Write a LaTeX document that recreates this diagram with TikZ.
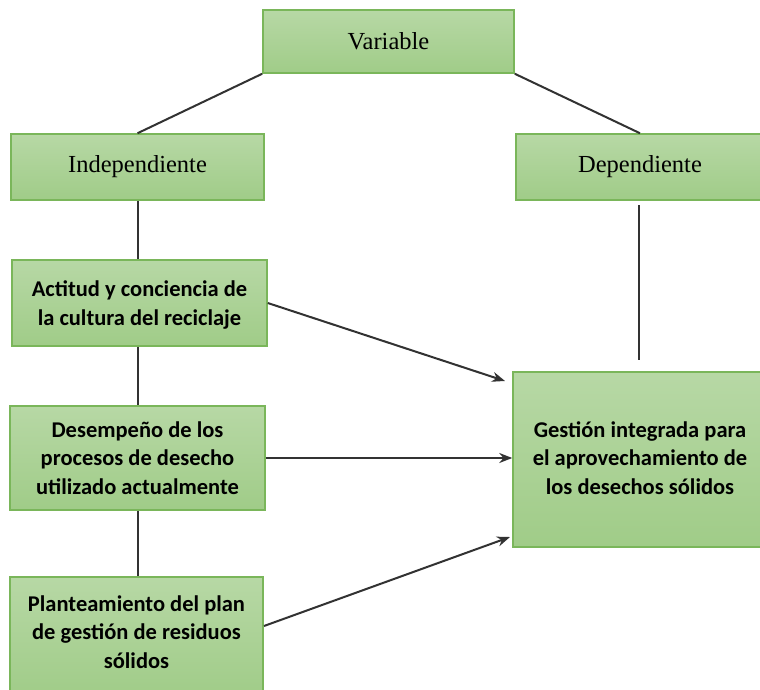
\documentclass[tikz,border=0pt]{standalone}
\usepackage{fontspec}
\setmainfont{Liberation Serif}
\newfontfamily\boxfont{Carlito}
\usetikzlibrary{arrows.meta,calc}
\definecolor{boxtop}{RGB}{183,216,165}
\definecolor{boxbot}{RGB}{160,204,136}
\definecolor{boxline}{RGB}{122,182,90}
\definecolor{linecol}{RGB}{50,50,50}
\tikzset{
  gbox/.style={rectangle, draw=boxline, line width=1.5pt, top color=boxtop, bottom color=boxbot, inner sep=0pt, anchor=center},
  serifbox/.style={gbox, font=\fontsize{24.5}{28}\selectfont},
  boldtext/.style={align=center, font=\boxfont\bfseries\fontsize{22.5}{28.5}\selectfont, inner sep=0pt},
  conn/.style={draw=linecol, line width=2pt},
  arr/.style={conn, -{Stealth[length=13pt,width=10pt]}}
}
\begin{document}
\begin{tikzpicture}[x=1pt,y=-1pt]
\clip (0,0) rectangle (760,690);
\fill[white] (0,0) rectangle (760,690);
% boxes
\node[serifbox, minimum width=251pt, minimum height=63pt] (var) at (388.5,41.5) {Variable};
\node[serifbox, minimum width=253pt, minimum height=66pt] (ind) at (137.5,167) {Independiente};
\node[serifbox, minimum width=248pt, minimum height=66pt] (dep) at (640,167) {Dependiente};
\node[gbox, minimum width=255pt, minimum height=86pt] (act) at (139.5,303) {};
\node[boldtext] (actt) at (139.5,305) {Actitud y conciencia de\\la cultura del reciclaje};
\node[gbox, minimum width=255pt, minimum height=104pt] (des) at (137.5,458) {};
\node[boldtext] (dest) at (137.5,458) {Desempeño de los\\procesos de desecho\\utilizado actualmente};
\node[gbox, minimum width=253pt, minimum height=120pt] (pla) at (136.5,637) {};
\node[boldtext] (plat) at (136.5,632) {Planteamiento del plan\\de gestión de residuos\\sólidos};
\node[gbox, minimum width=254pt, minimum height=175pt] (ges) at (640,459.5) {};
\node[boldtext] (gest) at (640,458) {Gestión integrada para\\el aprovechamiento de\\los desechos sólidos};
% coordinates
\coordinate (depline1) at (639,205);
\coordinate (depline2) at (639,360);
\coordinate (a1end) at (505,381);
\coordinate (a3start) at (264,626);
\coordinate (a3end) at (510,537);
% connectors
\draw[conn] (var.south west) -- (ind.north);
\draw[conn] (var.south east) -- (dep.north);
\draw[conn] (ind.south) -- (ind.south |- act.north);
\draw[conn] (ind.south |- act.south) -- (ind.south |- des.north);
\draw[conn] (des.south) -- (des.south |- pla.north);
\draw[conn] (depline1) -- (depline2);
\draw[arr] (act.east) -- (a1end);
\draw[arr] (des.east) -- (ges.west |- des.east);
\draw[arr] (a3start) -- (a3end);
\end{tikzpicture}
\end{document}
